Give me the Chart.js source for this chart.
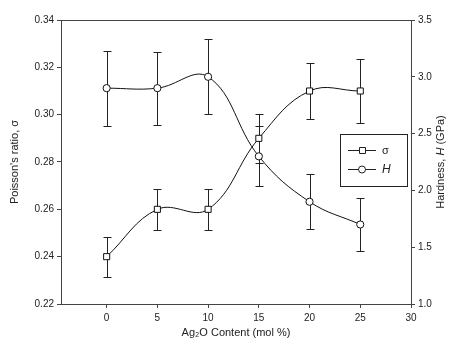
<!DOCTYPE html>
<html>
<head>
<meta charset="utf-8">
<script src="https://cdn.jsdelivr.net/npm/chart.js@4.4.1/dist/chart.umd.min.js"></script>
<style>
  html, body { margin: 0; padding: 0; background: #fff; }
  #wrap { width: 451px; height: 345px; }
</style>
</head>
<body>
<div id="wrap"><canvas id="chart"></canvas></div>
<script>
// Ag2O content (mol %)
const content = [0, 5, 10, 15, 20, 25];
// Poisson's ratio and its error
const sigma = [0.240, 0.260, 0.260, 0.290, 0.310, 0.310];
const sigmaErr = [0.0085, 0.0087, 0.0088, 0.0103, 0.012, 0.0135];
// Hardness (GPa) and its error
const hardness = [2.90, 2.90, 3.00, 2.30, 1.90, 1.70];
const hardnessErr = [0.33, 0.32, 0.33, 0.265, 0.24, 0.235];
// tick labels
const xTicks = [0, 5, 10, 15, 20, 25, 30];
const leftTicks = [0.22, 0.24, 0.26, 0.28, 0.30, 0.32, 0.34];
const rightTicks = [1.0, 1.5, 2.0, 2.5, 3.0, 3.5];

const axisColor = '#444';
const textColor = '#222';
const fontFam = '"Liberation Sans", Arial, sans-serif';

// error bars, drawn under the points
const errorBars = {
  id: 'errorBars',
  beforeDatasetsDraw(chart) {
    const ctx = chart.ctx;
    const xs = chart.scales.x;
    const sets = [
      { vals: sigma, errs: sigmaErr, ys: chart.scales.y },
      { vals: hardness, errs: hardnessErr, ys: chart.scales.y1 }
    ];
    ctx.save();
    ctx.strokeStyle = '#222';
    ctx.lineWidth = 1;
    sets.forEach(s => {
      s.vals.forEach((v, i) => {
        const px = Math.round(xs.getPixelForValue(content[i])) + 0.5;
        const top = Math.round(s.ys.getPixelForValue(v + s.errs[i])) + 0.5;
        const bot = Math.round(s.ys.getPixelForValue(v - s.errs[i])) + 0.5;
        ctx.beginPath();
        ctx.moveTo(px, top); ctx.lineTo(px, bot);
        ctx.moveTo(px - 4, top); ctx.lineTo(px + 4, top);
        ctx.moveTo(px - 4, bot); ctx.lineTo(px + 4, bot);
        ctx.stroke();
      });
    });
    ctx.restore();
  }
};

// top frame line, right axis title and the boxed legend
const extras = {
  id: 'extras',
  afterDraw(chart) {
    const ctx = chart.ctx;
    const a = chart.chartArea;
    ctx.save();
    ctx.strokeStyle = axisColor;
    ctx.lineWidth = 1;
    ctx.beginPath();
    ctx.moveTo(a.left, Math.round(a.top) + 0.5);
    ctx.lineTo(a.right, Math.round(a.top) + 0.5);
    ctx.stroke();

    // right title: Hardness, H (GPa)
    ctx.fillStyle = textColor;
    ctx.textBaseline = 'middle';
    const parts = [
      ['Hardness, ', '11px ' + fontFam],
      ['H', 'italic 11px ' + fontFam],
      [' (GPa)', '11px ' + fontFam]
    ];
    let total = 0;
    parts.forEach(p => { ctx.font = p[1]; total += ctx.measureText(p[0]).width; });
    ctx.translate(441, (a.top + a.bottom) / 2);
    ctx.rotate(-Math.PI / 2);
    let x = -total / 2;
    parts.forEach(p => {
      ctx.font = p[1];
      ctx.textAlign = 'left';
      ctx.fillText(p[0], x, 0);
      x += ctx.measureText(p[0]).width;
    });
    ctx.setTransform(1, 0, 0, 1, 0, 0);

    // legend box
    ctx.strokeStyle = '#222';
    ctx.strokeRect(340.5, 134.5, 67, 52);
    const rows = [
      { y: 150, ds: chart.data.datasets[0], font: '11px ' + fontFam },
      { y: 169, ds: chart.data.datasets[1], font: 'italic 12px ' + fontFam }
    ];
    rows.forEach(r => {
      ctx.beginPath();
      ctx.moveTo(348, r.y + 0.5); ctx.lineTo(376, r.y + 0.5);
      ctx.stroke();
      ctx.fillStyle = '#fff';
      ctx.beginPath();
      if (r.ds.pointStyle === 'rect') {
        ctx.rect(359.5, r.y - 2.5, 6, 6);
      } else {
        ctx.arc(362, r.y + 0.5, 3.5, 0, Math.PI * 2);
      }
      ctx.fill();
      ctx.stroke();
      ctx.fillStyle = textColor;
      ctx.font = r.font;
      ctx.textAlign = 'left';
      ctx.fillText(r.ds.label, 382, r.y + 1);
    });
    ctx.restore();
  }
};

const tickStyle = { color: textColor, font: { family: fontFam, size: 10 } };

new Chart(document.getElementById('chart'), {
  type: 'line',
  data: {
    datasets: [
      {
        label: 'σ',
        data: content.map((c, i) => ({ x: c, y: sigma[i] })),
        yAxisID: 'y',
        borderColor: '#111',
        borderWidth: 1,
        pointStyle: 'rect',
        pointRadius: 4.3,
        pointBackgroundColor: '#fff',
        pointBorderColor: '#111',
        pointBorderWidth: 1,
        tension: 0.4,
        fill: false
      },
      {
        label: 'H',
        data: content.map((c, i) => ({ x: c, y: hardness[i] })),
        yAxisID: 'y1',
        borderColor: '#111',
        borderWidth: 1,
        pointStyle: 'circle',
        pointRadius: 3.6,
        pointBackgroundColor: '#fff',
        pointBorderColor: '#111',
        pointBorderWidth: 1,
        tension: 0.4,
        fill: false
      }
    ]
  },
  options: {
    responsive: true,
    maintainAspectRatio: false,
    animation: false,
    layout: { padding: { top: 20, left: 0, right: 0, bottom: 0 } },
    plugins: { legend: { display: false }, tooltip: { enabled: false } },
    scales: {
      x: {
        type: 'linear',
        min: -4.5,
        max: 30,
        afterBuildTicks: s => { s.ticks = xTicks.map(v => ({ value: v })); },
        afterFit: s => { s.height = 41; },
        grid: { display: true, drawOnChartArea: false, drawTicks: true, tickLength: 4, color: axisColor },
        border: { display: true, color: axisColor, width: 1 },
        ticks: { ...tickStyle, padding: 4, callback: v => String(v) },
        title: {
          display: true,
          text: 'Ag₂O Content (mol %)',
          color: textColor,
          font: { family: fontFam, size: 11 },
          padding: { top: 0, bottom: 5 }
        }
      },
      y: {
        position: 'left',
        min: 0.22,
        max: 0.34,
        afterBuildTicks: s => { s.ticks = leftTicks.map(v => ({ value: v })); },
        afterFit: s => { s.width = 61; },
        grid: { display: true, drawOnChartArea: false, drawTicks: true, tickLength: 4, color: axisColor },
        border: { display: true, color: axisColor, width: 1 },
        ticks: { ...tickStyle, padding: 3, callback: v => v.toFixed(2) },
        title: {
          display: true,
          text: "Poisson's ratio, σ",
          color: textColor,
          font: { family: fontFam, size: 11 },
          padding: { top: 8, bottom: 0 }
        }
      },
      y1: {
        position: 'right',
        min: 1.0,
        max: 3.5,
        afterBuildTicks: s => { s.ticks = rightTicks.map(v => ({ value: v })); },
        afterFit: s => { s.width = 40; },
        grid: { display: true, drawOnChartArea: false, drawTicks: true, tickLength: 4, color: axisColor },
        border: { display: true, color: axisColor, width: 1 },
        ticks: { ...tickStyle, padding: 3, callback: v => v.toFixed(1) },
        title: { display: false }
      }
    }
  },
  plugins: [errorBars, extras]
});
</script>
</body>
</html>
